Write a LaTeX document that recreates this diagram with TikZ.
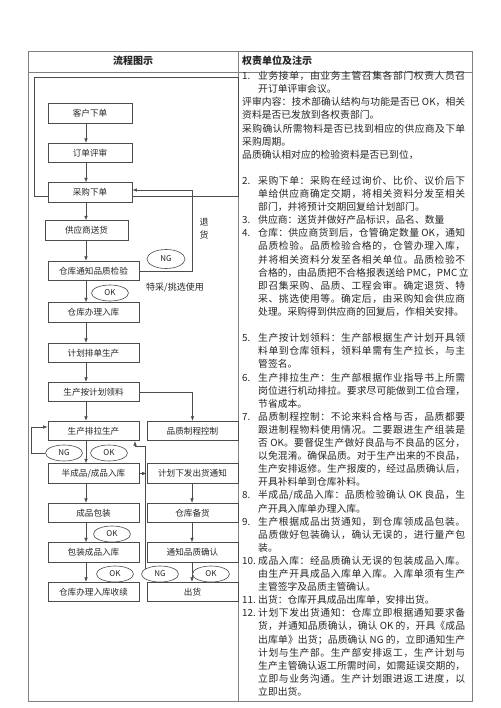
\documentclass[tikz,border=0pt]{standalone}
\usepackage{fontspec}
\newfontfamily\cjk{Noto Sans CJK SC}
\usetikzlibrary{arrows.meta,shapes.geometric}
\definecolor{boxc}{gray}{0.3}
\definecolor{tabc}{gray}{0.5}
\definecolor{txtc}{gray}{0.15}
\XeTeXinterchartokenstate=1
\newcount\jcnt
\jcnt="4E00
\loop \XeTeXcharclass\jcnt=1 \advance\jcnt by 1 \ifnum\jcnt<"A000 \repeat
\XeTeXcharclass"3001=3 \XeTeXcharclass"3002=3 \XeTeXcharclass"FF0C=3
\XeTeXcharclass"FF1A=3 \XeTeXcharclass"FF1B=3 \XeTeXcharclass"300B=3
\XeTeXcharclass"300A=2
\newcommand\jglue{\hskip 0pt plus 3pt\relax}
\XeTeXinterchartoks 1 1 = {\jglue}
\XeTeXinterchartoks 1 2 = {\jglue}
\XeTeXinterchartoks 1 3 = {\jglue}
\XeTeXinterchartoks 2 1 = {\jglue}
\XeTeXinterchartoks 3 1 = {\jglue}
\XeTeXinterchartoks 3 2 = {\jglue}
\XeTeXinterchartoks 3 3 = {\jglue}
\XeTeXinterchartoks 0 1 = {\jglue}
\XeTeXinterchartoks 1 0 = {\jglue}
\XeTeXinterchartoks 0 3 = {\jglue}
\XeTeXinterchartoks 3 0 = {\jglue}
\newcommand\rNum[3]{\node[rtext] (n#1) at (242,{76+13.1*#1+3.7}) {#2};\node[rtext] (b#1) at (258,{76+13.1*#1+3.7}) {#3};}
\newcommand\rNumJ[3]{\node[rtext] (n#1) at (242,{76+13.1*#1+3.7}) {#2};\node[rtext] (b#1) at (258,{76+13.1*#1+3.7}) {\makebox[207pt][s]{#3}};}
\newcommand\rBody[2]{\node[rtext] (b#1) at (258,{76+13.1*#1+3.7}) {#2};}
\newcommand\rBodyJ[2]{\node[rtext] (b#1) at (258,{76+13.1*#1+3.7}) {\makebox[207pt][s]{#2}};}
\newcommand\rFull[2]{\node[rtext] (f#1) at (242,{76+13.1*#1+3.7}) {#2};}
\newcommand\rFullJ[2]{\node[rtext] (f#1) at (242,{76+13.1*#1+3.7}) {\makebox[223pt][s]{#2}};}
\begin{document}
\begin{tikzpicture}[x=1pt,y=-1pt,
  box/.style={draw=boxc,fill=white,line width=0.7pt,minimum height=19.5pt,inner sep=0pt,text=txtc,font=\cjk\fontsize{8.6}{10}\selectfont},
  ell/.style={ellipse,draw=boxc,fill=white,line width=0.6pt,minimum width=37pt,minimum height=16pt,inner sep=0pt,text=txtc,font=\cjk\fontsize{8}{9}\selectfont},
  arr/.style={draw=boxc,line width=0.6pt,-{Latex[length=4.5pt,width=3.5pt]}},
  ln/.style={draw=boxc,line width=0.6pt},
  rtext/.style={anchor=base west,inner sep=0pt,text=txtc,font=\cjk\fontsize{9.8}{11}\selectfont},
  head/.style={inner sep=0pt,text=txtc,font=\cjk\bfseries\fontsize{10}{12}\selectfont},
  lbl/.style={inner sep=0pt,text=txtc,font=\cjk\fontsize{9}{10}\selectfont}]
\useasboundingbox (0,0) rectangle (500,708);
\fill[white] (0,0) rectangle (500,708);
% table
\draw[tabc,line width=0.7pt] (28,51) rectangle (472,701);
\draw[tabc,line width=0.7pt] (28,72) -- (472,72);
\draw[tabc,line width=0.7pt] (238,51) -- (238,701);
\node[head] (h1) at (133,61) {流程图示};
\node[head,anchor=west] (h2) at (242,61) {权责单位及注示};
% grouping frame
\draw[ln] (34,77) rectangle (238,196);
% coordinates
\coordinate (ax) at (86,0);
\coordinate (bx) at (192,0);
% boxes
\node[box,minimum width=84pt] (kh) at (90,113.5) {客户下单};
\node[box,minimum width=84pt] (ps) at (90,153) {订单评审};
\node[box,minimum width=84pt] (cg) at (90,192.5) {采购下单};
\node[box,minimum width=83pt] (gy) at (86.5,230.5) {供应商送货};
\node[box,minimum width=91pt] (jy) at (93.5,271) {仓库通知品质检验};
\node[box,minimum width=91pt] (rk) at (93.5,312.5) {仓库办理入库};
\node[box,minimum width=91pt] (pd) at (93.5,353) {计划排单生产};
\node[box,minimum width=91pt] (ll) at (93.5,392) {生产按计划领料};
\node[box,minimum width=91pt] (pl) at (93.5,431) {生产排拉生产};
\node[box,minimum width=91pt] (zk) at (192.5,431) {品质制程控制};
\node[box,minimum width=91pt] (bc) at (93.5,473.5) {半成品/成品入库};
\node[box,minimum width=91pt] (tz) at (192.5,473.5) {计划下发出货通知};
\node[box,minimum width=91pt] (bz) at (93.5,513) {成品包装};
\node[box,minimum width=91pt] (bh) at (192.5,513) {仓库备货};
\node[box,minimum width=91pt] (bk) at (93.5,552.5) {包装成品入库};
\node[box,minimum width=91pt] (qr) at (192.5,552.5) {通知品质确认};
\node[box,minimum width=91pt] (sx) at (93.5,592) {仓库办理入库收续};
\node[box,minimum width=91pt] (ch) at (192.5,592) {出货};
% vertical arrows left column
\draw[arr] (ax |- kh.south) -- (ax |- ps.north);
\draw[arr] (ax |- ps.south) -- (ax |- cg.north);
\draw[arr] (ax |- cg.south) -- (ax |- gy.north);
\draw[arr] (ax |- gy.south) -- (ax |- jy.north);
\draw[arr] (ax |- jy.south) -- (ax |- rk.north);
\draw[arr] (ax |- rk.south) -- (ax |- pd.north);
\draw[arr] (ax |- pd.south) -- (ax |- ll.north);
\draw[arr] (ax |- ll.south) -- (ax |- pl.north);
\draw[arr] (ax |- pl.south) -- (ax |- bc.north);
\draw[arr] (ax |- bc.south) -- (ax |- bz.north);
\draw[arr] (ax |- bz.south) -- (ax |- bk.north);
\draw[arr] (ax |- bk.south) -- (ax |- sx.north);
% right column
\draw[arr] (bx |- tz.south) -- (bx |- bh.north);
\draw[arr] (bx |- bh.south) -- (bx |- qr.north);
\draw[arr] (bx |- qr.south) -- (bx |- ch.north);
% return goods loop
\coordinate (rt) at (192,190);
\draw[arr] (jy.east) -| (rt) -- (rt -| cg.east);
% material to process control
\draw[arr] (ll.east) -| (zk.north);
% semi to shipment notice
\draw[arr] (bc.east) -- (tz.west);
% ellipses
\node[ell,minimum width=38pt,minimum height=19pt] (ng0) at (166,259) {NG};
\node[ell] (ok1) at (110,293) {OK};
\node[ell] (ng1) at (64,453) {NG};
\node[ell] (ok2) at (109,453) {OK};
\node[ell] (ok3) at (112,534) {OK};
\node[ell] (ok4) at (115,574) {OK};
\node[ell] (ng3) at (160,574) {NG};
\node[ell] (ok5) at (211,574) {OK};
% NG loops
\coordinate (lp) at (31,427);
\draw[arr] (ng1.west) -| (lp) -- (lp -| pl.west);
\coordinate (rw) at (135,446);
\draw[arr] (ng3.160) |- (rw) -- (rw |- pl.south);
% labels
\node[lbl] (tu) at (204,222) {退};
\node[lbl] (hu) at (204,235) {货};
\node[lbl] (tc) at (175,288) {特采/挑选使用};
% right column text
\rNumJ{0}{1.}{业务接单，由业务主管召集各部门权责人员召}
\rBody{1}{开订单评审会议。}
\rFullJ{2}{评审内容：技术部确认结构与功能是否已 OK，相关}
\rFull{3}{资料是否已发放到各权责部门。}
\rFullJ{4}{采购确认所需物料是否已找到相应的供应商及下单}
\rFull{5}{采购周期。}
\rFull{6}{品质确认相对应的检验资料是否已到位，}
\rNumJ{8}{2.}{采购下单：采购在经过询价、比价、议价后下}
\rBodyJ{9}{单给供应商确定交期，将相关资料分发至相关}
\rBody{10}{部门，并将预计交期回复给计划部门。}
\rNum{11}{3.}{供应商：送货并做好产品标识，品名、数量}
\rNumJ{12}{4.}{仓库：供应商货到后，仓管确定数量 OK，通知}
\rBodyJ{13}{品质检验。品质检验合格的，仓管办理入库，}
\rBodyJ{14}{并将相关资料分发至各相关单位。品质检验不}
\rBodyJ{15}{合格的，由品质把不合格报表送给 PMC，PMC 立}
\rBodyJ{16}{即召集采购、品质、工程会审。确定退货、特}
\rBodyJ{17}{采、挑选使用等。确定后，由采购知会供应商}
\rBody{18}{处理。采购得到供应商的回复后，作相关安排。}
\rNumJ{20}{5.}{生产按计划领料：生产部根据生产计划开具领}
\rBodyJ{21}{料单到仓库领料，领料单需有生产拉长，与主}
\rBody{22}{管签名。}
\rNumJ{23}{6.}{生产排拉生产：生产部根据作业指导书上所需}
\rBodyJ{24}{岗位进行机动排拉。要求尽可能做到工位合理，}
\rBody{25}{节省成本。}
\rNumJ{26}{7.}{品质制程控制：不论来料合格与否，品质都要}
\rBodyJ{27}{跟进制程物料使用情况。二要跟进生产组装是}
\rBodyJ{28}{否 OK。要督促生产做好良品与不良品的区分，}
\rBodyJ{29}{以免混淆。确保品质。对于生产出来的不良品，}
\rBodyJ{30}{生产安排返修。生产报废的，经过品质确认后，}
\rBody{31}{开具补料单到仓库补料。}
\rNumJ{32}{8.}{半成品/成品入库：品质检验确认 OK 良品，生}
\rBody{33}{产开具入库单办理入库。}
\rNumJ{34}{9.}{生产根据成品出货通知，到仓库领成品包装。}
\rBodyJ{35}{品质做好包装确认，确认无误的，进行量产包}
\rBody{36}{装。}
\rNumJ{37}{10.}{成品入库：经品质确认无误的包装成品入库。}
\rBodyJ{38}{由生产开具成品入库单入库。入库单须有生产}
\rBody{39}{主管签字及品质主管确认。}
\rNum{40}{11.}{出货：仓库开具成品出库单，安排出货。}
\rNumJ{41}{12.}{计划下发出货通知：仓库立即根据通知要求备}
\rBodyJ{42}{货，并通知品质确认，确认 OK 的，开具《成品}
\rBodyJ{43}{出库单》出货；品质确认 NG 的，立即通知生产}
\rBodyJ{44}{计划与生产部。生产部安排返工，生产计划与}
\rBodyJ{45}{生产主管确认返工所需时间，如需延误交期的，}
\rBodyJ{46}{立即与业务沟通。生产计划跟进返工进度，以}
\rBody{47}{立即出货。}
\end{tikzpicture}
\end{document}
